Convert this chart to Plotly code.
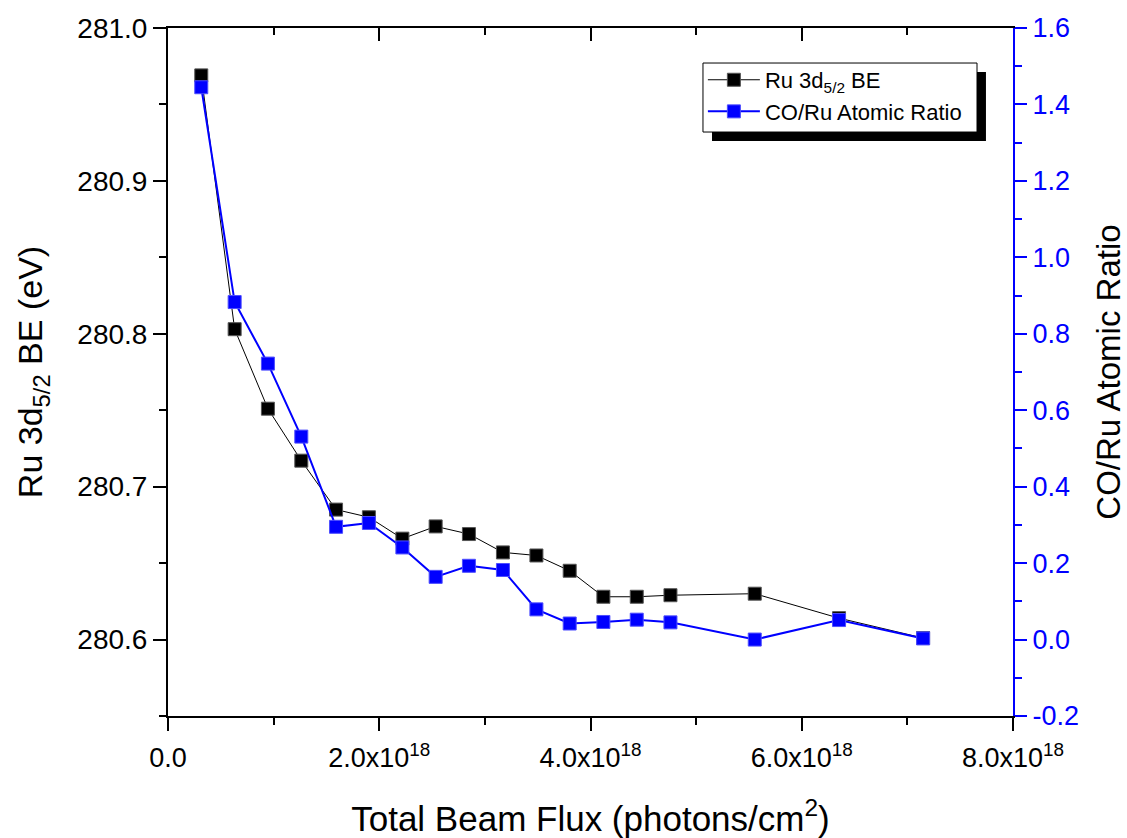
import plotly.graph_objects as go

# Data
flux = [0.315e18, 0.631e18, 0.946e18, 1.262e18, 1.591e18, 1.902e18, 2.219e18, 2.534e18,
        2.849e18, 3.171e18, 3.488e18, 3.803e18, 4.122e18, 4.438e18, 4.757e18, 5.555e18,
        6.353e18, 7.149e18]
ru_be = [280.969, 280.803, 280.751, 280.717, 280.685, 280.680, 280.666, 280.674,
         280.669, 280.657, 280.655, 280.645, 280.628, 280.628, 280.629, 280.630,
         280.614, 280.601]
co_ru_ratio = [1.445, 0.883, 0.722, 0.531, 0.295, 0.305, 0.241, 0.164,
               0.193, 0.182, 0.079, 0.042, 0.046, 0.052, 0.045, 0.000,
               0.051, 0.003]

x_tickvals = [0, 2e18, 4e18, 6e18, 8e18]
x_ticktext = ["0.0", "2.0x10<sup>18</sup>", "4.0x10<sup>18</sup>",
              "6.0x10<sup>18</sup>", "8.0x10<sup>18</sup>"]
y2_tickvals = [-0.2, 0.0, 0.2, 0.4, 0.6, 0.8, 1.0, 1.2, 1.4, 1.6]
y2_ticktext = ["-0.2", "0.0", "0.2", "0.4", "0.6", "0.8", "1.0", "1.2", "1.4", "1.6"]

FONT = "Arial"
BLUE = "#0000ff"

fig = go.Figure()
fig.add_trace(go.Scatter(
    x=flux, y=ru_be, mode="lines+markers", name="Ru 3d<sub>5/2</sub> BE",
    line=dict(color="black", width=1),
    marker=dict(symbol="square", size=13, color="black",
                line=dict(color="#555555", width=1)),
    xaxis="x", yaxis="y"))
fig.add_trace(go.Scatter(
    x=flux, y=co_ru_ratio, mode="lines+markers", name="CO/Ru Atomic Ratio",
    line=dict(color=BLUE, width=2),
    marker=dict(symbol="square", size=13, color=BLUE,
                line=dict(color="#4d4dff", width=1)),
    xaxis="x", yaxis="y2"))
# empty trace to activate the top tick axis
fig.add_trace(go.Scatter(x=[], y=[], xaxis="x3", yaxis="y", showlegend=False,
                         hoverinfo="skip"))

fig.update_layout(
    width=1127, height=838,
    margin=dict(l=168, r=114, t=28, b=122, autoexpand=False),
    paper_bgcolor="white", plot_bgcolor="white",
    font=dict(family=FONT, color="black", size=20),
    showlegend=True,
    legend=dict(x=0.633, y=0.955, xanchor="left", yanchor="top",
                bgcolor="rgba(0,0,0,0)", borderwidth=0,
                font=dict(size=22, family=FONT), itemwidth=52,
                tracegroupgap=0),
    xaxis=dict(
        range=[0, 8e18], tickvals=x_tickvals, ticktext=x_ticktext,
        showline=True, linecolor="black", linewidth=2, mirror=True,
        ticks="outside", ticklen=13, tickwidth=2, tickcolor="black",
        minor=dict(dtick=1e18, tick0=0, ticks="outside", ticklen=7, tickwidth=2,
                   tickcolor="black"),
        showgrid=False, zeroline=False, automargin=False,
        ticklabelstandoff=4,
        tickfont=dict(size=27, family=FONT),
        title=dict(text="Total Beam Flux (photons/cm<sup>2</sup>)",
                   font=dict(size=35, family=FONT), standoff=36),
    ),
    xaxis3=dict(
        overlaying="x", side="top", range=[0, 8e18], tickvals=x_tickvals,
        showticklabels=False, showline=False, showgrid=False, zeroline=False,
        automargin=False,
        ticks="inside", ticklen=13, tickwidth=2, tickcolor="black",
        minor=dict(dtick=1e18, tick0=0, ticks="inside", ticklen=7, tickwidth=2,
                   tickcolor="black"),
    ),
    yaxis=dict(
        range=[280.55, 281.0], tick0=280.6, dtick=0.1, tickformat=".1f",
        showline=True, linecolor="black", linewidth=2, mirror=False,
        ticks="outside", ticklen=13, tickwidth=2, tickcolor="black",
        minor=dict(dtick=0.05, tick0=280.55, ticks="outside", ticklen=7, tickwidth=2,
                   tickcolor="black"),
        showgrid=False, zeroline=False, automargin=False,
        tickfont=dict(size=28, family=FONT),
        title=dict(text="Ru 3d<sub>5/2</sub> BE (eV)",
                   font=dict(size=34, family=FONT), standoff=24),
    ),
    yaxis2=dict(
        overlaying="y", side="right", anchor="x",
        range=[-0.2, 1.6], tickvals=y2_tickvals, ticktext=y2_ticktext,
        showline=True, linecolor=BLUE, linewidth=2,
        ticks="outside", ticklen=12, tickwidth=2, tickcolor=BLUE,
        minor=dict(dtick=0.1, tick0=0, ticks="outside", ticklen=7, tickwidth=2,
                   tickcolor=BLUE),
        showgrid=False, zeroline=False, automargin=False,
        tickfont=dict(size=27, family=FONT, color=BLUE),
        title=dict(text="CO/Ru Atomic Ratio",
                   font=dict(size=33, family=FONT, color="black"), standoff=41),
    ),
    shapes=[
        # legend drop shadow
        dict(type="rect", xref="paper", yref="paper",
             x0=0.6438, x1=0.9680, y0=0.8358, y1=0.9360,
             fillcolor="black", line=dict(width=0), layer="above"),
        # legend frame
        dict(type="rect", xref="paper", yref="paper",
             x0=0.6331, x1=0.9574, y0=0.8488, y1=0.9491,
             fillcolor="white", line=dict(color="black", width=1), layer="above"),
    ],
)

fig.write_html("out.html")
